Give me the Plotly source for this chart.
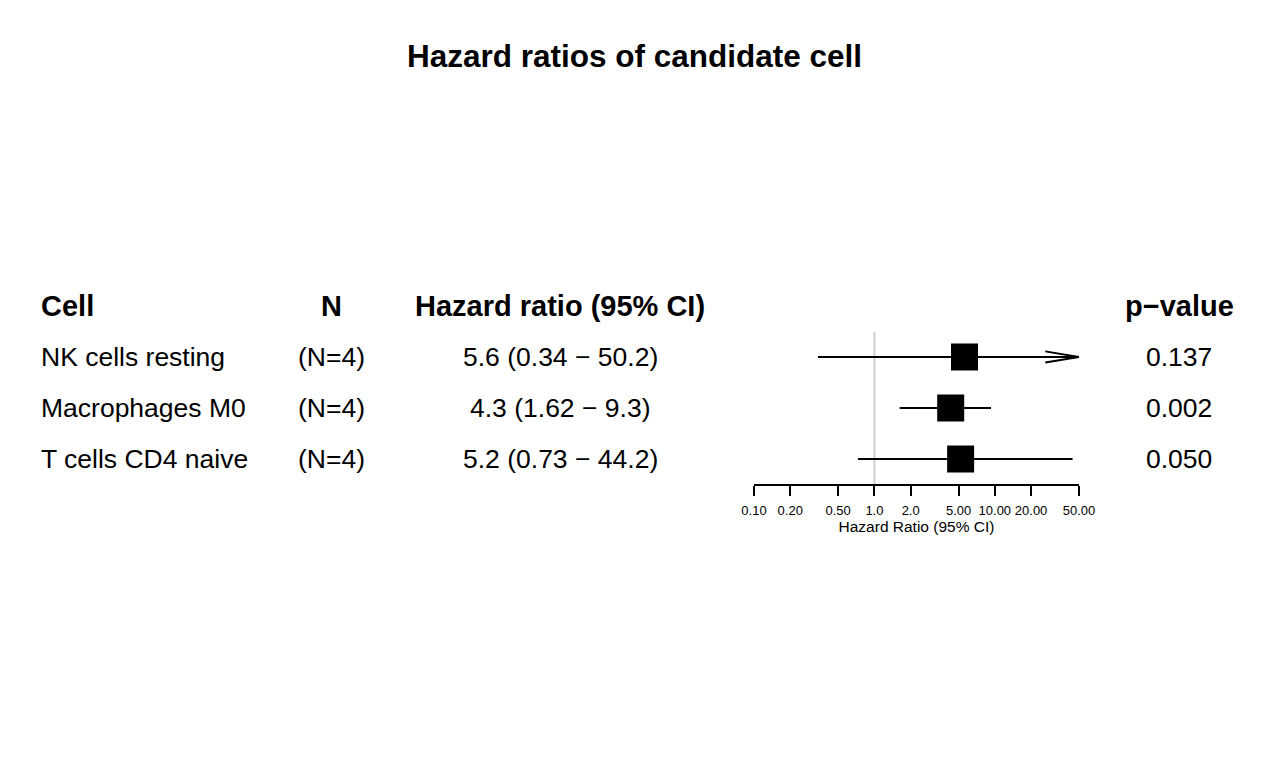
import math
import plotly.graph_objects as go

# ---------------- data ----------------
cells = ["NK cells resting", "Macrophages M0", "T cells CD4 naive"]
n_obs = [4, 4, 4]
hr = [5.6, 4.3, 5.2]
ci_low = [0.34, 1.62, 0.73]
ci_high = [50.2, 9.3, 44.2]
p_values = [0.137, 0.002, 0.050]
tick_vals = [0.1, 0.2, 0.5, 1.0, 2.0, 5.0, 10.0, 20.0, 50.0]
tick_text = ["0.10", "0.20", "0.50", "1.0", "2.0", "5.00", "10.00", "20.00", "50.00"]
x_min, x_max = 0.1, 50.0
title = "Hazard ratios of candidate cell"
headers = ["Cell", "N", "Hazard ratio (95% CI)", "p\u2212value"]
x_title = "Hazard Ratio (95% CI)"

# ---------------- layout helpers ----------------
W, H = 1269, 780
FONT = "Arial, Liberation Sans, sans-serif"
rows = list(range(len(cells), 0, -1))  # 3, 2, 1 (top to bottom)
header_row = len(cells) + 1

Y_RANGE = [0.51, len(cells) + 0.49]
Y_DOM_PX = [484, 332]  # bottom, top in pixels


def px_x(p):
    return p / W


def px_y(p):
    return 1 - p / H


Y_DOM = [px_y(Y_DOM_PX[0]), px_y(Y_DOM_PX[1])]


def row_to_paper(r):
    f = (r - Y_RANGE[0]) / (Y_RANGE[1] - Y_RANGE[0])
    return Y_DOM[0] + f * (Y_DOM[1] - Y_DOM[0])


fig = go.Figure()

# reference line at HR = 1
fig.add_trace(go.Scatter(
    x=[1.0, 1.0], y=Y_RANGE, mode="lines",
    line=dict(color="#d0d0d0", width=2), hoverinfo="skip", showlegend=False))

# confidence intervals (clipped at the axis limits, open arrow when clipped)
for r, lo, hi in zip(rows, ci_low, ci_high):
    lo_c = max(lo, x_min)
    hi_c = min(hi, x_max)
    fig.add_trace(go.Scatter(
        x=[lo_c, hi_c], y=[r, r], mode="lines",
        line=dict(color="black", width=2), hoverinfo="skip", showlegend=False))
    if hi > x_max:
        back = hi_c / 10 ** 0.28
        fig.add_trace(go.Scatter(
            x=[back, hi_c, back], y=[r + 0.11, r, r - 0.11], mode="lines",
            line=dict(color="black", width=2), hoverinfo="skip", showlegend=False))

# point estimates
fig.add_trace(go.Scatter(
    x=hr, y=rows, mode="markers",
    marker=dict(symbol="square", size=27, color="black", line=dict(width=0)),
    showlegend=False))

# ---------------- text table ----------------
annotations = []
col_cell_x = px_x(39)
col_n_x = px_x(331)
col_hr_x = px_x(560)
col_p_x = px_x(1179)

hdr_font = dict(family=FONT, size=29, color="black")
row_font = dict(family=FONT, size=26.5, color="black")

for text, x, anchor in zip(headers, [col_cell_x, col_n_x, col_hr_x, col_p_x],
                           ["left", "center", "center", "center"]):
    annotations.append(dict(text="<b>" + text + "</b>", x=x, y=row_to_paper(header_row),
                            xref="paper", yref="paper", xanchor=anchor, yanchor="middle",
                            showarrow=False, font=hdr_font))

for r, c, n, h, lo, hi, p in zip(rows, cells, n_obs, hr, ci_low, ci_high, p_values):
    yp = row_to_paper(r)
    annotations.append(dict(text=c, x=col_cell_x, y=yp, xref="paper", yref="paper",
                            xanchor="left", yanchor="middle", showarrow=False, font=row_font))
    annotations.append(dict(text=f"(N={n})", x=col_n_x, y=yp, xref="paper", yref="paper",
                            xanchor="center", yanchor="middle", showarrow=False, font=row_font))
    annotations.append(dict(text=f"{h:.1f} ({lo:.2f} \u2212 {hi:.1f})", x=col_hr_x, y=yp,
                            xref="paper", yref="paper", xanchor="center", yanchor="middle",
                            showarrow=False, font=row_font))
    annotations.append(dict(text=f"{p:.3f}", x=col_p_x, y=yp, xref="paper", yref="paper",
                            xanchor="center", yanchor="middle", showarrow=False, font=row_font))

fig.update_layout(
    width=W, height=H,
    margin=dict(l=0, r=0, t=0, b=0, pad=0, autoexpand=False),
    paper_bgcolor="white", plot_bgcolor="white",
    title=dict(text="<b>" + title + "</b>", x=0.5, xanchor="center",
               y=px_y(56), yanchor="middle",
               font=dict(family=FONT, size=31.5, color="black")),
    xaxis=dict(
        type="log", range=[math.log10(x_min), math.log10(x_max)],
        domain=[px_x(754), px_x(1079)],
        tickvals=tick_vals, ticktext=tick_text, tickangle=0,
        ticks="outside", ticklen=10, tickwidth=2, tickcolor="black",
        ticklabelstandoff=3,
        showline=True, linecolor="black", linewidth=2,
        showgrid=False, zeroline=False, automargin=False,
        tickfont=dict(family=FONT, size=13, color="black"),
        title=dict(text=x_title, standoff=2,
                   font=dict(family=FONT, size=15.5, color="black")),
        anchor="y",
    ),
    yaxis=dict(
        range=Y_RANGE,
        domain=Y_DOM,
        visible=False, showgrid=False, zeroline=False, automargin=False,
    ),
    annotations=annotations,
)

fig.write_html("out.html", config={"displayModeBar": False},
               post_script="document.body.style.margin='0';document.body.style.overflow='hidden';")
